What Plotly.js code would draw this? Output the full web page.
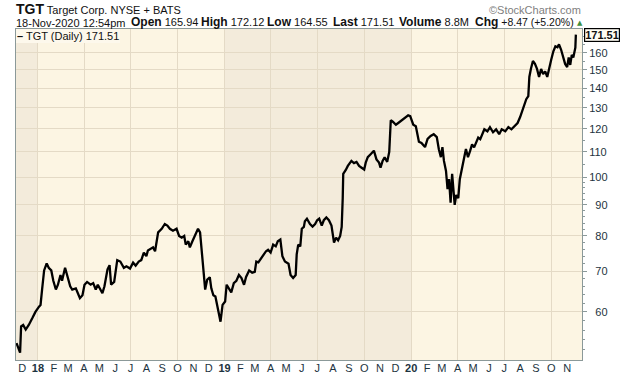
<!DOCTYPE html>
<html>
<head>
<meta charset="utf-8">
<script src="https://cdn.plot.ly/plotly-3.0.1.min.js"></script>
<style>
  html, body { margin: 0; padding: 0; background: #ffffff; }
  #chart { width: 620px; height: 376px; }
</style>
</head>
<body>
<div id="chart"></div>
<script>
// ---- data ----
const dates = [
'2017-11-20','2017-11-27','2017-11-29','2017-12-03','2017-12-08','2017-12-14','2017-12-21','2017-12-27',
'2018-01-03','2018-01-06','2018-01-09','2018-01-13','2018-01-18','2018-01-22','2018-01-27','2018-01-31',
'2018-02-05','2018-02-09','2018-02-14','2018-02-17','2018-02-23','2018-02-27',
'2018-03-05','2018-03-09','2018-03-16','2018-03-20','2018-03-24','2018-03-29',
'2018-04-02','2018-04-07','2018-04-14','2018-04-19','2018-04-24','2018-04-28',
'2018-05-02','2018-05-07','2018-05-11','2018-05-17','2018-05-21','2018-05-24','2018-05-30',
'2018-06-02','2018-06-05','2018-06-11','2018-06-18','2018-06-23','2018-06-30',
'2018-07-06','2018-07-11','2018-07-17','2018-07-22','2018-07-27',
'2018-08-01','2018-08-04','2018-08-10','2018-08-14','2018-08-18','2018-08-21','2018-08-24','2018-08-31',
'2018-09-06','2018-09-11','2018-09-16','2018-09-22','2018-09-29',
'2018-10-04','2018-10-09','2018-10-14','2018-10-17','2018-10-22','2018-10-25','2018-10-30',
'2018-11-04','2018-11-10','2018-11-14','2018-11-18','2018-11-21','2018-11-24','2018-11-28',
'2018-12-03','2018-12-06','2018-12-10','2018-12-14','2018-12-18','2018-12-21','2018-12-24','2018-12-28',
'2019-01-02','2019-01-05','2019-01-10','2019-01-14','2019-01-19','2019-01-24','2019-01-29',
'2019-02-03','2019-02-08','2019-02-12','2019-02-18','2019-02-24',
'2019-03-01','2019-03-04','2019-03-08','2019-03-12','2019-03-17','2019-03-23','2019-03-27',
'2019-04-01','2019-04-06','2019-04-11','2019-04-15','2019-04-20','2019-04-24','2019-04-29',
'2019-05-06','2019-05-10','2019-05-15','2019-05-20','2019-05-22','2019-05-25','2019-05-29',
'2019-06-01','2019-06-05','2019-06-07','2019-06-11','2019-06-17','2019-06-22','2019-06-27',
'2019-07-01','2019-07-05','2019-07-10','2019-07-14','2019-07-19','2019-07-24','2019-07-29',
'2019-08-03','2019-08-07','2019-08-11','2019-08-15','2019-08-18','2019-08-20','2019-08-21','2019-08-26','2019-08-30',
'2019-09-06','2019-09-11','2019-09-16','2019-09-21','2019-09-26',
'2019-10-01','2019-10-04','2019-10-08','2019-10-14','2019-10-20','2019-10-25','2019-10-30',
'2019-11-02','2019-11-06','2019-11-10','2019-11-15','2019-11-19','2019-11-20','2019-11-22','2019-11-26',
'2019-12-02','2019-12-06','2019-12-13','2019-12-19','2019-12-26','2019-12-30',
'2020-01-05','2020-01-10','2020-01-16','2020-01-21','2020-01-28',
'2020-02-02','2020-02-08','2020-02-14','2020-02-20','2020-02-24','2020-02-28',
'2020-03-02','2020-03-05','2020-03-09','2020-03-12','2020-03-15','2020-03-18','2020-03-21','2020-03-24','2020-03-26','2020-03-29',
'2020-04-02','2020-04-05','2020-04-09','2020-04-13','2020-04-17','2020-04-21','2020-04-25','2020-04-29',
'2020-05-03','2020-05-07','2020-05-11','2020-05-15','2020-05-19','2020-05-23','2020-05-29',
'2020-06-03','2020-06-09','2020-06-15','2020-06-21','2020-06-26',
'2020-07-03','2020-07-09','2020-07-15','2020-07-21','2020-07-27',
'2020-08-01','2020-08-07','2020-08-13','2020-08-17','2020-08-19','2020-08-22','2020-08-26','2020-08-30',
'2020-09-03','2020-09-07','2020-09-11','2020-09-15','2020-09-19','2020-09-23','2020-09-27',
'2020-10-01','2020-10-05','2020-10-09','2020-10-13','2020-10-16','2020-10-20','2020-10-24','2020-10-28',
'2020-11-01','2020-11-04','2020-11-07','2020-11-10','2020-11-13','2020-11-16','2020-11-17','2020-11-18'
];
const closes = [
53.3,51.4,56.8,57.1,56.1,57.1,58.6,60.0,
61.2,61.6,65.3,70.2,72.1,70.9,70.2,67.5,
65.3,66.5,69.0,67.5,70.9,69.0,
66.1,65.3,65.6,64.4,63.2,63.9,
66.5,67.2,66.5,66.9,65.3,66.5,
65.4,64.4,66.1,70.5,71.6,66.5,67.2,
70.2,73.0,72.6,70.9,71.3,70.7,
72.3,71.5,72.6,73.0,75.1,
74.1,75.7,76.2,76.6,75.5,78.0,81.1,82.2,
83.7,83.2,82.2,81.6,82.2,
80.0,79.5,80.0,77.4,78.4,76.6,78.4,
80.0,82.2,81.1,75.1,69.3,65.3,67.8,
68.4,65.6,63.9,63.6,61.0,59.0,57.8,61.6,
62.4,66.5,65.6,64.6,66.9,67.5,69.0,
68.2,66.5,68.5,70.2,69.6,
69.8,72.6,72.4,73.2,74.1,75.5,75.9,
75.1,77.4,76.9,78.4,78.9,74.1,72.6,
72.0,69.0,68.2,69.0,74.6,77.4,76.9,
82.2,82.8,84.6,85.4,83.7,82.9,83.7,
84.9,85.4,83.2,84.9,85.8,84.9,83.2,
78.0,79.5,78.7,80.0,82.8,92.3,101.2,102.7,104.3,
106.3,105.4,105.9,104.3,103.6,
102.9,105.6,107.8,109.1,110.5,106.9,105.6,
103.6,106.3,107.8,105.9,110.0,117.1,124.0,123.3,
121.9,122.6,124.0,125.3,126.3,125.9,
121.9,121.2,114.3,113.8,112.0,
115.5,116.8,117.6,116.3,111.1,107.8,
112.0,106.3,102.3,95.5,99.2,90.7,101.2,91.8,90.0,93.4,
92.3,99.2,103.9,107.1,111.2,107.8,110.3,113.2,
111.9,114.3,116.1,115.4,117.6,119.8,118.9,
120.8,118.5,119.8,117.6,119.8,
118.9,120.8,119.8,121.3,122.7,
125.5,130.3,134.3,135.9,146.1,150.6,155.2,153.5,
150.6,146.1,150.6,147.7,149.2,146.1,151.7,
156.2,161.0,164.1,163.5,165.3,162.1,157.3,153.5,
151.7,157.3,152.9,158.8,157.3,162.1,163.2,171.51
];
const lastClose = 171.51;

const monthTicks = ['2017-12-01','2018-01-01','2018-02-01','2018-03-01','2018-04-01','2018-05-01','2018-06-01',
  '2018-07-01','2018-08-01','2018-09-01','2018-10-01','2018-11-01','2018-12-01','2019-01-01','2019-02-01',
  '2019-03-01','2019-04-01','2019-05-01','2019-06-01','2019-07-01','2019-08-01','2019-09-01','2019-10-01',
  '2019-11-01','2019-12-01','2020-01-01','2020-02-01','2020-03-01','2020-04-01','2020-05-01','2020-06-01',
  '2020-07-01','2020-08-01','2020-09-01','2020-10-01','2020-11-01'];
const monthLabels = ['D','<b>18</b>','F','M','A','M','J','J','A','S','O','N','D','<b>19</b>','F','M','A','M','J',
  'J','A','S','O','N','D','<b>20</b>','F','M','A','M','J','J','A','S','O','N'];

const priceTicks = [60,70,80,90,100,110,120,130,140,150,160];
const priceTickText = ['\u200760','\u200770','\u200780','\u200790','100','110','120','130','140','150','160'];
const priceMinorTicks = [52,54,56,58,62,64,66,68,72,74,76,78,82,84,86,88,92,94,96,98,
  105,115,125,135,145,155,165,170];

const shadeStarts = ['2017-11-01','2019-01-01'];
const shadeEnds = ['2018-01-01','2020-01-01'];

const xRange = ['2017-11-19','2020-11-30'];
const yRange = [50.0, 175.2];

// ---- styling ----
const LIGHT = '#fcf5e3';
const DARK = '#f3ebdb';
const GRID = '#e4dac6';
const AXIS = '#8b9999';
const TICKTXT = '#1d3340';
const FONT = 'Liberation Sans, Arial, sans-serif';

const traces = [
  {
    x: dates, y: closes, type: 'scatter', mode: 'lines',
    line: {color: '#000000', width: 2.3},
    xaxis: 'x', yaxis: 'y', showlegend: false, hoverinfo: 'x+y'
  },
  {
    x: [dates[0]], y: [closes[0]], type: 'scatter', mode: 'markers',
    marker: {opacity: 0}, xaxis: 'x2', yaxis: 'y', showlegend: false, hoverinfo: 'skip'
  }
];

const shapes = shadeStarts.map((s, i) => ({
  type: 'rect', xref: 'x', yref: 'paper', x0: s, x1: shadeEnds[i], y0: 0, y1: 1,
  fillcolor: DARK, line: {width: 0}, layer: 'below'
}));

function px(X) { return (X - 16) / 566; }
function py(Y) { return (360 - Y) / 331; }

const B = (t) => '<b><span style="font-size:12px">' + t + '</span></b>';
const L2 = 29.5;

const annotations = [
  {xref: 'paper', yref: 'paper', x: px(15), y: py(18), xanchor: 'left', yanchor: 'bottom', showarrow: false,
   text: '<b><span style="font-size:14px">TGT</span></b> Target Corp. NYSE + BATS',
   font: {family: FONT, size: 11, color: '#111111'}, borderpad: 0},
  {xref: 'paper', yref: 'paper', x: 1, y: py(17), xanchor: 'right', yanchor: 'bottom', showarrow: false,
   text: '\u00a9StockCharts.com', font: {family: FONT, size: 11, color: '#808080'}, borderpad: 0},
  {xref: 'paper', yref: 'paper', x: px(15), y: py(L2), xanchor: 'left', yanchor: 'bottom', showarrow: false,
   text: '18-Nov-2020 12:54pm', font: {family: FONT, size: 11, color: '#111111'}, borderpad: 0},
  {xref: 'paper', yref: 'paper', x: px(130), y: py(L2), xanchor: 'left', yanchor: 'bottom', showarrow: false,
   text: B('Open') + ' 165.94', font: {family: FONT, size: 11, color: '#111111'}, borderpad: 0},
  {xref: 'paper', yref: 'paper', x: px(200), y: py(L2), xanchor: 'left', yanchor: 'bottom', showarrow: false,
   text: B('High') + ' 172.12', font: {family: FONT, size: 11, color: '#111111'}, borderpad: 0},
  {xref: 'paper', yref: 'paper', x: px(266), y: py(L2), xanchor: 'left', yanchor: 'bottom', showarrow: false,
   text: B('Low') + ' 164.55', font: {family: FONT, size: 11, color: '#111111'}, borderpad: 0},
  {xref: 'paper', yref: 'paper', x: px(332), y: py(L2), xanchor: 'left', yanchor: 'bottom', showarrow: false,
   text: B('Last') + ' 171.51', font: {family: FONT, size: 11, color: '#111111'}, borderpad: 0},
  {xref: 'paper', yref: 'paper', x: px(398), y: py(L2), xanchor: 'left', yanchor: 'bottom', showarrow: false,
   text: B('Volume') + ' 8.8M', font: {family: FONT, size: 11, color: '#111111'}, borderpad: 0},
  {xref: 'paper', yref: 'paper', x: px(474), y: py(L2), xanchor: 'left', yanchor: 'bottom', showarrow: false,
   text: B('Chg') + ' +8.47 (+5.20%)', font: {family: FONT, size: 10.5, color: '#111111'}, borderpad: 0},
  {xref: 'paper', yref: 'paper', x: px(580), y: py(L2 - 2), xanchor: 'center', yanchor: 'bottom', showarrow: false,
   text: '\u25b2', font: {family: 'DejaVu Sans', size: 7, color: '#3f8f3f'}, borderpad: 0},
  // legend box
  {xref: 'paper', yref: 'paper', x: 0, y: 1, xanchor: 'left', yanchor: 'top', showarrow: false,
   text: '<b>\u2013</b> TGT (Daily) ' + lastClose.toFixed(2),
   font: {family: FONT, size: 11, color: '#111111'},
   bgcolor: '#fdf8ec', borderpad: 1, borderwidth: 0},
  // last price tag
  {xref: 'paper', yref: 'y', x: px(584), y: Math.log10(lastClose), xanchor: 'left', yanchor: 'middle', showarrow: false,
   text: '<b>' + lastClose.toFixed(2) + '</b>',
   font: {family: FONT, size: 11, color: '#111111'},
   bgcolor: '#fffdf4', bordercolor: '#000000', borderwidth: 1.2, borderpad: 0}
];

const layout = {
  width: 620, height: 376,
  margin: {l: 16, r: 38, t: 29, b: 16, pad: 0},
  paper_bgcolor: '#ffffff',
  plot_bgcolor: LIGHT,
  font: {family: FONT, size: 11, color: TICKTXT},
  showlegend: false,
  xaxis: {
    type: 'date', range: xRange, autorange: false,
    tickmode: 'linear', tick0: '2018-01-01', dtick: 'M3',
    showticklabels: false, ticks: '',
    showgrid: true, gridcolor: GRID, gridwidth: 1,
    showline: true, linecolor: AXIS, linewidth: 1, mirror: true,
    zeroline: false, fixedrange: true
  },
  xaxis2: {
    type: 'date', overlaying: 'x', matches: 'x', anchor: 'y', side: 'bottom',
    tickmode: 'array', tickvals: monthTicks, ticktext: monthLabels,
    ticks: '', showgrid: false, showline: false, zeroline: false,
    tickfont: {family: FONT, size: 11, color: TICKTXT}, automargin: false
  },
  yaxis: {
    type: 'log', side: 'right',
    range: [Math.log10(yRange[0]), Math.log10(yRange[1])], autorange: false,
    tickmode: 'array', tickvals: priceTicks, ticktext: priceTickText,
    ticks: 'outside', ticklen: 4, tickcolor: AXIS, tickwidth: 1,
    minor: {tickmode: 'array', tickvals: priceMinorTicks, ticks: 'outside', ticklen: 2, tickcolor: AXIS, showgrid: false},
    showgrid: true, gridcolor: GRID, gridwidth: 1,
    showline: true, linecolor: AXIS, linewidth: 1, mirror: true,
    zeroline: false, automargin: false,
    tickfont: {family: FONT, size: 11, color: TICKTXT}
  },
  shapes: shapes,
  annotations: annotations
};

Plotly.newPlot('chart', traces, layout, {staticPlot: true, displayModeBar: false});
</script>
</body>
</html>
